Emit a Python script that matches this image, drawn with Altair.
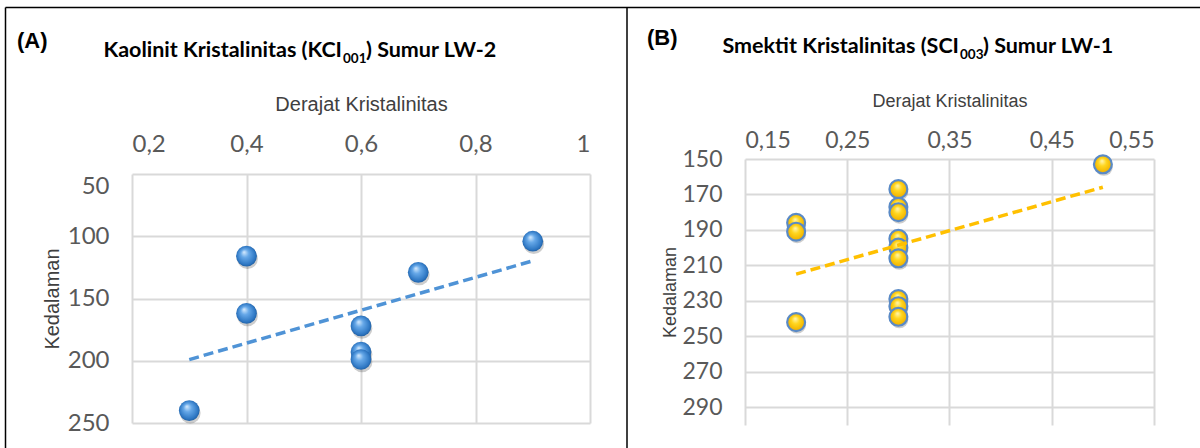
import altair as alt
import pandas as pd

# ---------------- data ----------------
# Panel A : Kaolinit Kristalinitas (KCI001) Sumur LW-2
a_kri = [0.9, 0.4, 0.7, 0.4, 0.6, 0.6, 0.6, 0.3]
a_depth = [104, 116, 129, 162, 172, 193, 199, 240]
a_xticks = [0.2, 0.4, 0.6, 0.8, 1.0]
a_yticks = [50, 100, 150, 200, 250]
a_xdomain = [0.2, 1.0]
a_ydomain = [50, 250]

# Panel B : Smektit Kristalinitas (SCI003) Sumur LW-1
b_kri = [0.5, 0.3, 0.3, 0.3, 0.2, 0.2, 0.3, 0.3, 0.3, 0.3, 0.3, 0.3, 0.2]
b_depth = [153, 167, 177, 180, 186, 191, 195, 200, 206, 229, 233, 239, 242]
b_xticks = [0.15, 0.25, 0.35, 0.45, 0.55]
b_yticks = [150, 170, 190, 210, 230, 250, 270, 290]
b_xdomain = [0.15, 0.55]
b_ydomain = [150, 300]

panel_labels = ["(A)", "(B)"]
title_a = ["Kaolinit Kristalinitas (KCI", "001", ") Sumur LW-2"]
title_b = ["Smektit Kristalinitas (SCI", "003", ") Sumur LW-1"]
x_title = "Derajat Kristalinitas"
y_title = "Kedalaman"

# ---------------- style ----------------
GRID = "#d9d9d9"
TICK_COLOR = "#595959"
AXIS_TITLE_COLOR = "#404040"

grad_blue = alt.RadialGradient(
    gradient="radial",
    stops=[
        alt.GradientStop(color="#d8ecff", offset=0),
        alt.GradientStop(color="#66a8e8", offset=0.35),
        alt.GradientStop(color="#2f78c4", offset=0.8),
        alt.GradientStop(color="#1b5695", offset=1),
    ],
    x1=0.38, y1=0.3, r1=0, x2=0.5, y2=0.5, r2=0.55,
)
grad_gold = alt.RadialGradient(
    gradient="radial",
    stops=[
        alt.GradientStop(color="#fff7b8", offset=0),
        alt.GradientStop(color="#ffd61f", offset=0.4),
        alt.GradientStop(color="#f2b400", offset=0.85),
        alt.GradientStop(color="#d89a00", offset=1),
    ],
    x1=0.45, y1=0.3, r1=0, x2=0.5, y2=0.5, r2=0.55,
)


def panel(kri, depth, xdom, ydom, xticks, yticks, xr, yr, fill, stroke, stroke_w,
          size, line_color, tick_fs, title_fs, xlab_pad, x_title_y, y_title_x,
          flush_first=None):
    df = pd.DataFrame({"kri": kri, "depth": depth})
    base = alt.Chart(df)
    xs = alt.Scale(domain=xdom, range=xr, nice=False, zero=False)
    ys = alt.Scale(domain=ydom, range=yr, nice=False, zero=False)
    xaxis = alt.Axis(
        orient="top", offset=-yr[0], values=xticks, format="~g",
        labelExpr="replace(datum.label, '.', ',')",
        grid=True, gridColor=GRID, gridWidth=2, domain=False, ticks=False, tickSize=0,
        labelPadding=xlab_pad, labelFont="Lato", labelFontSize=tick_fs,
        labelColor=TICK_COLOR, title=x_title, titleFont="Liberation Sans",
        titleFontSize=title_fs, titleFontWeight="normal", titleColor=AXIS_TITLE_COLOR,
        titleY=x_title_y, titleBaseline="alphabetic",
    )
    yargs = dict(
        orient="left", offset=-xr[0], values=yticks, format="d",
        grid=True, gridColor=GRID, gridWidth=2, domain=False, ticks=False, tickSize=0,
        labelPadding=23, labelFont="Lato", labelFontSize=tick_fs,
        labelColor=TICK_COLOR, title=y_title, titleFont="Liberation Sans",
        titleFontSize=title_fs, titleFontWeight="normal", titleColor=AXIS_TITLE_COLOR,
        titleX=y_title_x, titleBaseline="alphabetic", titleAngle=270,
    )
    if flush_first is not None:
        yargs["labelBaseline"] = {
            "condition": {"test": f"datum.value == {flush_first}", "value": "top"},
            "value": "middle",
        }
    yaxis = alt.Axis(**yargs)

    shadow = base.mark_circle(size=size, opacity=0.22, color="#1a1a1a", xOffset=1, yOffset=2.5).encode(
        x=alt.X("kri:Q", scale=xs, axis=xaxis),
        y=alt.Y("depth:Q", scale=ys, axis=yaxis),
    )
    pts_kwargs = dict(size=size, opacity=1, fill=fill)
    if stroke:
        pts_kwargs.update(stroke=stroke, strokeWidth=stroke_w)
    pts = base.mark_circle(**pts_kwargs).encode(x="kri:Q", y="depth:Q")
    line = base.transform_regression("kri", "depth").mark_line(
        color=line_color, strokeWidth=3.5, strokeDash=[10, 5]
    ).encode(x="kri:Q", y="depth:Q")
    return alt.layer(shadow, pts, line)


layer_a = panel(a_kri, a_depth, a_xdomain, a_ydomain, a_xticks, a_yticks,
                [132, 590], [174, 423], grad_blue, None, 0, 430, "#4f93d6",
                24, 20, 18, -64, -74, flush_first=a_ydomain[0])
layer_b = panel(b_kri, b_depth, b_xdomain, b_ydomain, b_xticks, b_yticks,
                [745, 1154], [159, 425], grad_gold, "#5a8ac6", 2.2, 320, "#ffc000",
                23, 18, 7, -53, -70)

one = pd.DataFrame({"k": [0]})


def rule(x, y, x2=None, y2=None):
    enc = dict(x=alt.value(x), y=alt.value(y))
    if x2 is not None:
        enc["x2"] = alt.value(x2)
    if y2 is not None:
        enc["y2"] = alt.value(y2)
    return alt.Chart(one).mark_rule(color="black", strokeWidth=1.5).encode(**enc)


def text(s, x, y, size, font="Lato", weight="bold", align="left"):
    return alt.Chart(one).mark_text(
        font=font, fontSize=size, fontWeight=weight, align=align,
        baseline="alphabetic", color="black",
    ).encode(x=alt.value(x), y=alt.value(y), text=alt.value(s))


deco = [
    rule(5.5, 7.5, x2=1200),
    rule(5.5, 7.5, y2=448),
    rule(627, 7.5, y2=448),
    text(panel_labels[0], 17, 48, 22, font="Liberation Sans"),
    text(panel_labels[1], 647, 45, 22, font="Liberation Sans"),
    text(title_a[0], 342, 57, 21.5, align="right"),
    text(title_a[1], 343, 63, 13.5),
    text(title_a[2], 366, 57, 21.5),
    text(title_b[0], 959, 53, 21.5, align="right"),
    text(title_b[1], 960, 59, 13.5),
    text(title_b[2], 983, 53, 21.5),
]

chart = alt.layer(layer_a, layer_b, *deco).resolve_scale(
    x="independent", y="independent"
).properties(
    width=1200, height=448, padding=0,
    autosize=alt.AutoSizeParams(type="none"),
    background="white",
).configure_view(stroke="transparent")

chart.save("out.html", embed_options={"renderer": "svg", "actions": False})
